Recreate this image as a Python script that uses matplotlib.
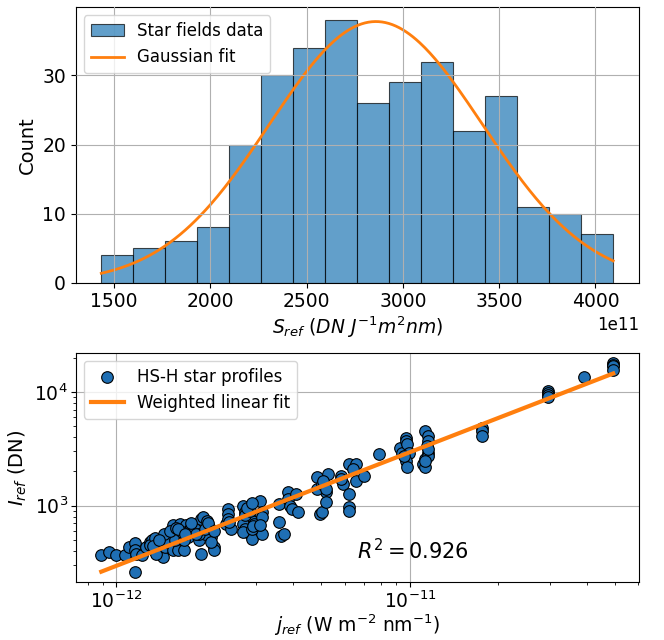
import numpy as np
import matplotlib
matplotlib.use("Agg")
import matplotlib.pyplot as plt
from matplotlib.ticker import ScalarFormatter, NullFormatter

# histogram of S_ref (units of 1e11 DN J^-1 m^2 nm)
hist_lo, hist_hi, n_bins = 1434, 4092, 16
counts = [4, 5, 6, 8, 20, 30, 34, 38, 26, 29, 32, 22, 27, 11, 10, 7]
# gaussian fit parameters
g_amp, g_mu, g_sigma = 37.8, 2860, 553

# star profiles: j_ref in 1e-12 W m^-2 nm^-1, I_ref in DN
j_ref = [0.890, 0.945, 1.00, 1.069, 1.105, 1.161, 1.161, 1.169, 1.161, 1.221,
         1.262, 1.304, 1.326, 1.349, 1.394, 1.417, 1.408, 1.441, 1.371, 1.466,
         1.490, 1.566, 1.619, 1.646, 1.674, 1.566, 1.619, 1.702, 1.730, 1.759,
         1.788, 1.592, 1.702, 1.849, 1.944, 1.976, 1.911, 1.944, 2.043, 2.077,
         2.112, 2.147, 2.147, 2.009, 1.911, 2.412, 2.412, 2.372, 2.452, 2.412,
         2.710, 2.755, 2.848, 2.896, 2.710, 2.755, 2.848, 2.896, 2.944, 3.095,
         3.147, 3.147, 3.147, 2.710, 2.896, 3.594, 3.594, 3.655, 3.841, 3.841,
         3.906, 3.971, 4.105, 4.174, 3.715, 4.846, 4.927, 5.011, 5.095, 5.180,
         5.180, 5.267, 4.846, 5.011, 5.818, 5.916, 5.818, 6.219, 6.535, 6.219,
         6.219, 6.219, 6.535, 6.986, 6.428, 7.847, 9.265, 9.419, 9.738, 9.738,
         9.802, 9.901, 9.738, 9.802, 9.577, 11.31, 11.50, 11.50, 11.42, 11.57,
         11.31, 11.12, 11.23, 11.57, 11.50, 11.31, 17.59, 17.59, 17.59, 29.65,
         29.65, 29.65, 29.65, 39.32, 49.28, 49.28, 49.28, 49.28,
         1.30, 1.36, 1.45, 1.52, 1.60, 1.68, 1.80, 1.87, 2.00, 2.10, 2.74, 2.86, 2.92,
         1.33, 1.40, 1.63, 1.72, 2.05, 2.15, 2.42, 2.80, 2.90, 3.10, 5.05, 5.20]
I_ref = [365, 391, 365, 365, 432, 469, 404, 378, 261, 365,
         432, 478, 494, 404, 511, 494, 378, 353, 378, 432,
         478, 682, 565, 691, 604, 404, 404, 404, 682, 528,
         625, 494, 494, 625, 765, 791, 494, 378, 739, 646,
         528, 432, 404, 565, 565, 935, 846, 691, 625, 765,
         1000, 874, 791, 739, 691, 625, 565, 511, 691, 1106,
         874, 791, 565, 584, 625, 1034, 715, 546, 1308, 1144,
         1000, 935, 1265, 874, 565, 1769, 846, 874, 1496, 1308,
         1069, 1892, 1399, 1547, 1829, 1547, 1711, 2314, 2314, 1265,
         967, 904, 1655, 1829, 2093, 2831, 3237, 2928, 3960, 3703,
         3463, 2928, 2475, 2193, 2737, 4529, 4095, 3703, 3349, 2928,
         2559, 2314, 2193, 2737, 3131, 2475, 4843, 4529, 4095, 10270,
         9800, 9350, 8980, 13530, 17930, 17340, 16770, 15680,
         450, 520, 560, 600, 640, 590, 700, 560, 620, 480, 820, 900, 660,
         440, 500, 620, 560, 700, 600, 720, 950, 1050, 680, 1650, 1400]
fit_slope = 2.95e14
r2 = 0.926

plt.rcParams['font.family'] = 'DejaVu Sans'

fig = plt.figure(figsize=(6.64, 6.4), dpi=100)
gs = fig.add_gridspec(2, 1, height_ratios=[276, 230], hspace=0.277,
                      left=0.114, right=0.962, top=0.989, bottom=0.090)
ax1 = fig.add_subplot(gs[0])
ax2 = fig.add_subplot(gs[1])

# --- top: histogram with gaussian fit
edges = np.linspace(hist_lo, hist_hi, n_bins + 1) * 1e11
centres = 0.5 * (edges[:-1] + edges[1:])
ax1.hist(centres, bins=edges, weights=counts, color='C0', alpha=0.7,
         edgecolor='k', linewidth=0.8, label='Star fields data')
xs = np.linspace(edges[0], edges[-1], 300)
ax1.plot(xs, g_amp * np.exp(-(xs - g_mu * 1e11) ** 2 / (2 * (g_sigma * 1e11) ** 2)),
         color='C1', lw=2, label='Gaussian fit')
fmt = ScalarFormatter()
fmt.set_powerlimits((11, 11))
ax1.xaxis.set_major_formatter(fmt)
ax1.xaxis.get_offset_text().set_fontsize(12)
ax1.set_xlabel(r'$S_{ref}\ (DN\ J^{-1} m^2 nm)$', fontsize=13.5, labelpad=2)
ax1.set_ylabel('Count', fontsize=14)
ax1.tick_params(labelsize=13.5)
ax1.set_yticks([0, 10, 20, 30])
ax1.grid(True)
ax1.set_axisbelow(False)
ax1.legend(loc='upper left', fontsize=12)

# --- bottom: log-log scatter with weighted linear fit
jj = np.array(j_ref) * 1e-12
ax2.scatter(jj, I_ref, s=70, color='#1f6fb4', edgecolor='k', linewidth=0.8,
            label='HS-H star profiles', zorder=2)
jl = np.array([jj.min(), jj.max()])
ax2.plot(jl, fit_slope * jl, color='C1', lw=3, label='Weighted linear fit', zorder=3)
ax2.set_xscale('log')
ax2.set_yscale('log')
xl, yl = ax2.get_xlim(), ax2.get_ylim()
ax2.set_xticks([1e-12, 1e-11])
ax2.set_yticks([1e3, 1e4])
ax2.set_xlim(xl)
ax2.set_ylim(yl)
ax2.xaxis.set_minor_formatter(NullFormatter())
ax2.yaxis.set_minor_formatter(NullFormatter())
ax2.grid(True, which='major')
ax2.set_axisbelow(True)
ax2.set_xlabel(r'$j_{ref}$ (W m$^{-2}$ nm$^{-1}$)', fontsize=13.5, labelpad=1)
ax2.set_ylabel(r'$I_{ref}$ (DN)', fontsize=14)
ax2.tick_params(labelsize=13.5, pad=2)
ax2.text(0.5, 0.1, r'$R^2 = $' + f'{r2:.3f}', transform=ax2.transAxes, fontsize=15)
ax2.legend(loc='upper left', fontsize=12)

fig.savefig('out.png', dpi=100)
